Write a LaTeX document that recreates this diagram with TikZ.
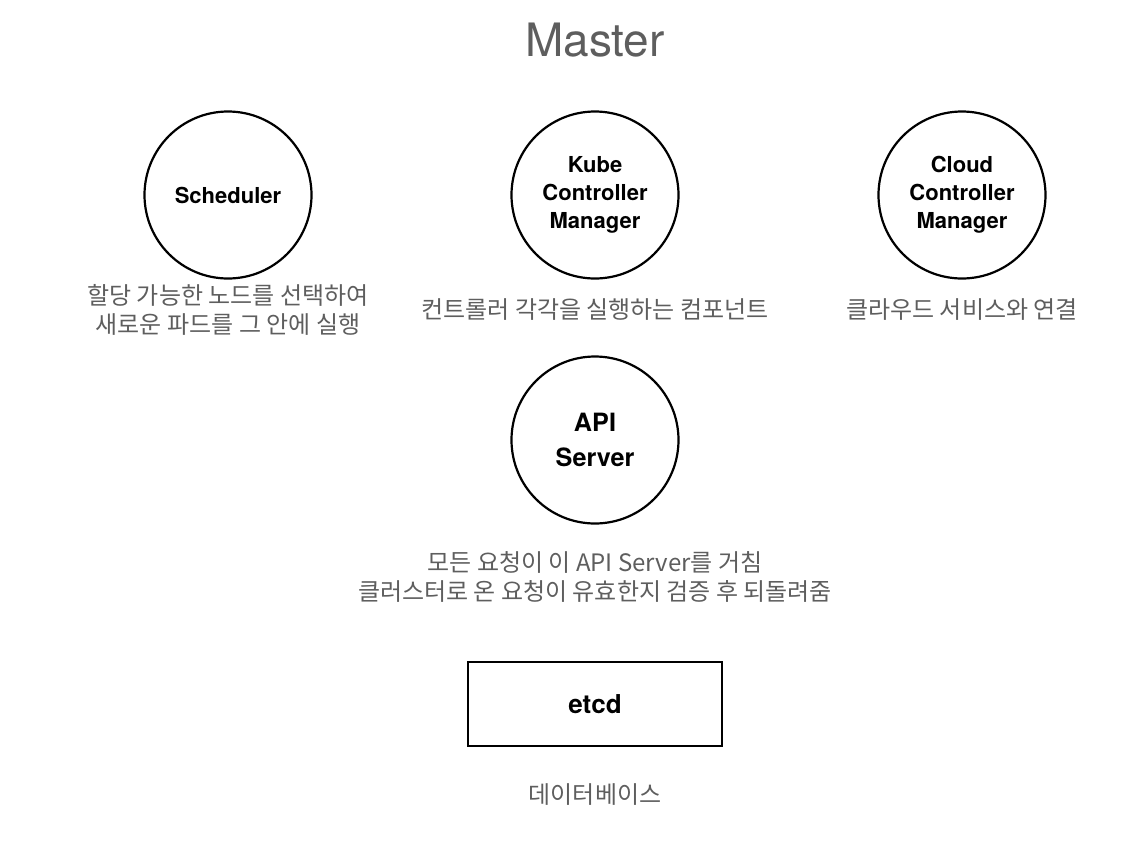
\documentclass[tikz,border=0pt]{standalone}
\usepackage{fontspec}
\setmainfont{TeX Gyre Heros}
\newfontfamily\krfont{Noto Sans CJK KR}
\definecolor{captiongray}{HTML}{5E5E5E}

\begin{document}
\begin{tikzpicture}[x=0.5pt, y=-0.5pt]
    \tikzstyle{component}=[circle, draw=black, line width=1.1pt, minimum size=83.5pt, inner sep=0pt, align=center, font=\bfseries\fontsize{11}{14}\selectfont]
    \tikzstyle{store}=[rectangle, draw=black, line width=1.2pt, minimum width=127pt, minimum height=42pt, font=\bfseries\fontsize{13}{15}\selectfont]
    \tikzstyle{caption}=[text=captiongray, align=center, font=\krfont\fontsize{12}{14.5}\selectfont]
    \useasboundingbox (0,0) rectangle (1148,852);

    \node[text=captiongray, font=\fontsize{23}{26}\selectfont] (master) at (595,40) {Master};

    % the three controllers on top
    \foreach \name/\txt/\x in {scheduler/{Scheduler}/228, kube/{Kube\\Controller\\Manager}/595, cloud/{Cloud\\Controller\\Manager}/962}
    \node[component] (\name) at (\x,195) {\txt};

    \node[caption] (scheduler-note) at (228,310) {할당 가능한 노드를 선택하여\\새로운 파드를 그 안에 실행};
    \node[caption] (kube-note) at (595,310) {컨트롤러 각각을 실행하는 컴포넌트};
    \node[caption] (cloud-note) at (962,310) {클라우드 서비스와 연결};

    % api server
    \node[component, font=\bfseries\fontsize{12.6}{17.5}\selectfont] (api) at (595,440) {API\\Server};
    \node[caption] (api-note) at (595,577) {모든 요청이 이 API Server를 거침\\클러스터로 온 요청이 유효한지 검증 후 되돌려줌};

    % storage
    \node[store] (etcd) at (595,704) {etcd};
    \node[caption] (etcd-note) at (595,795) {데이터베이스};

\end{tikzpicture}
\end{document}
